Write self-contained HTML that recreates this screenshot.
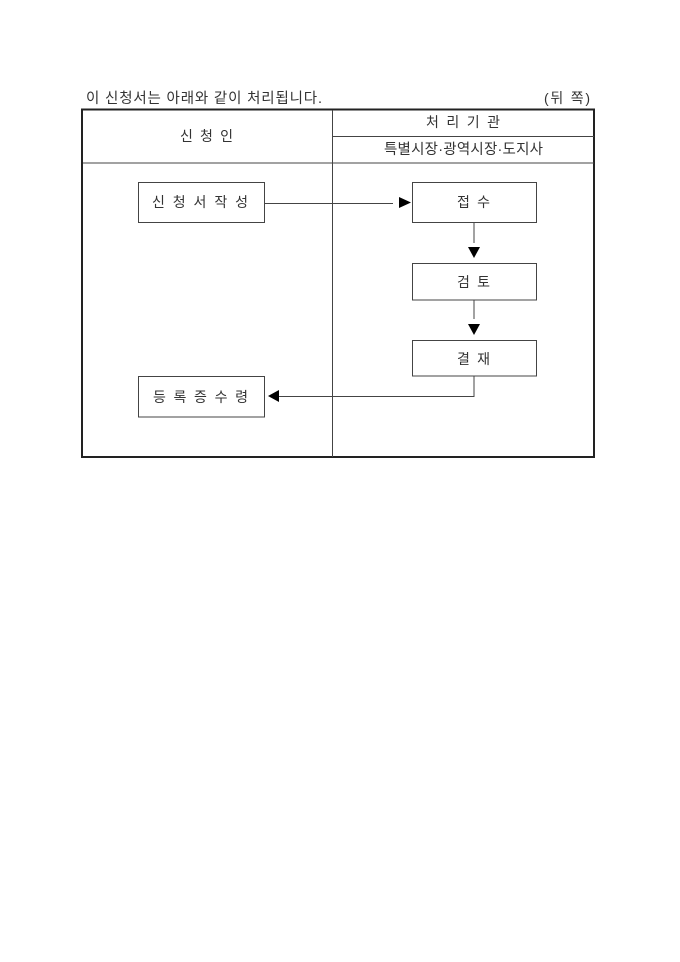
<!DOCTYPE html>
<html lang="ko">
<head>
<meta charset="utf-8">
<style>
html,body{margin:0;padding:0;background:#fff;}
body{width:680px;height:962px;overflow:hidden;}
svg{display:block;}
text{font-family:"Liberation Sans","WenQuanYi Zen Hei","Noto Sans CJK KR",sans-serif;font-size:14px;fill:#333;}
</style>
</head>
<body>
<svg width="680" height="962" viewBox="0 0 680 962" xmlns="http://www.w3.org/2000/svg">
<rect width="680" height="962" fill="#fff"/>
<text x="86" y="103" textLength="236" lengthAdjust="spacing" style="font-size:14.5px">이 신청서는 아래와 같이 처리됩니다.</text>
<text x="544" y="103" textLength="46" lengthAdjust="spacing">(뒤 쪽)</text>

<rect x="82" y="109.5" width="512" height="347.5" fill="none" stroke="#222" stroke-width="2"/>
<g stroke="#444" stroke-width="1" fill="none">
<line x1="332.5" y1="110" x2="332.5" y2="457"/>
<line x1="333" y1="136.5" x2="594" y2="136.5"/>
<line x1="83" y1="163" x2="594" y2="163"/>
<rect x="138.5" y="182.5" width="126" height="40"/>
<rect x="412.5" y="182.5" width="124" height="40"/>
<rect x="412.5" y="263.5" width="124" height="36.500"/>
<rect x="412.5" y="340.5" width="124" height="35.500"/>
<rect x="138.5" y="376.500" width="126" height="40.500"/>
<line x1="265" y1="203.500" x2="393" y2="203.500"/>
<line x1="474" y1="223" x2="474" y2="243"/>
<line x1="474" y1="300" x2="474" y2="319"/>
<polyline points="474,376 474,396.500 279,396.500"/>
</g>
<g fill="#000">
<polygon points="399,197 399,208 411,202.500"/>
<polygon points="468,247 480,247 474,258"/>
<polygon points="468,324 480,324 474,335"/>
<polygon points="268,396 279,390 279,402"/>
</g>

<text x="180" y="141" textLength="53" lengthAdjust="spacing">신 청 인</text>
<text x="426" y="127" textLength="74" lengthAdjust="spacing">처 리 기 관</text>
<text x="384" y="154" textLength="159" lengthAdjust="spacing" style="font-size:14.500px">특별시장·광역시장·도지사</text>
<text x="152" y="207" textLength="96" lengthAdjust="spacing">신 청 서 작 성</text>
<text x="457" y="207" textLength="33" lengthAdjust="spacing">접 수</text>
<text x="457" y="287" textLength="33" lengthAdjust="spacing">검 토</text>
<text x="457" y="364" textLength="33" lengthAdjust="spacing">결 재</text>
<text x="153" y="402" textLength="95" lengthAdjust="spacing">등 록 증 수 령</text>
</svg>
</body>
</html>
